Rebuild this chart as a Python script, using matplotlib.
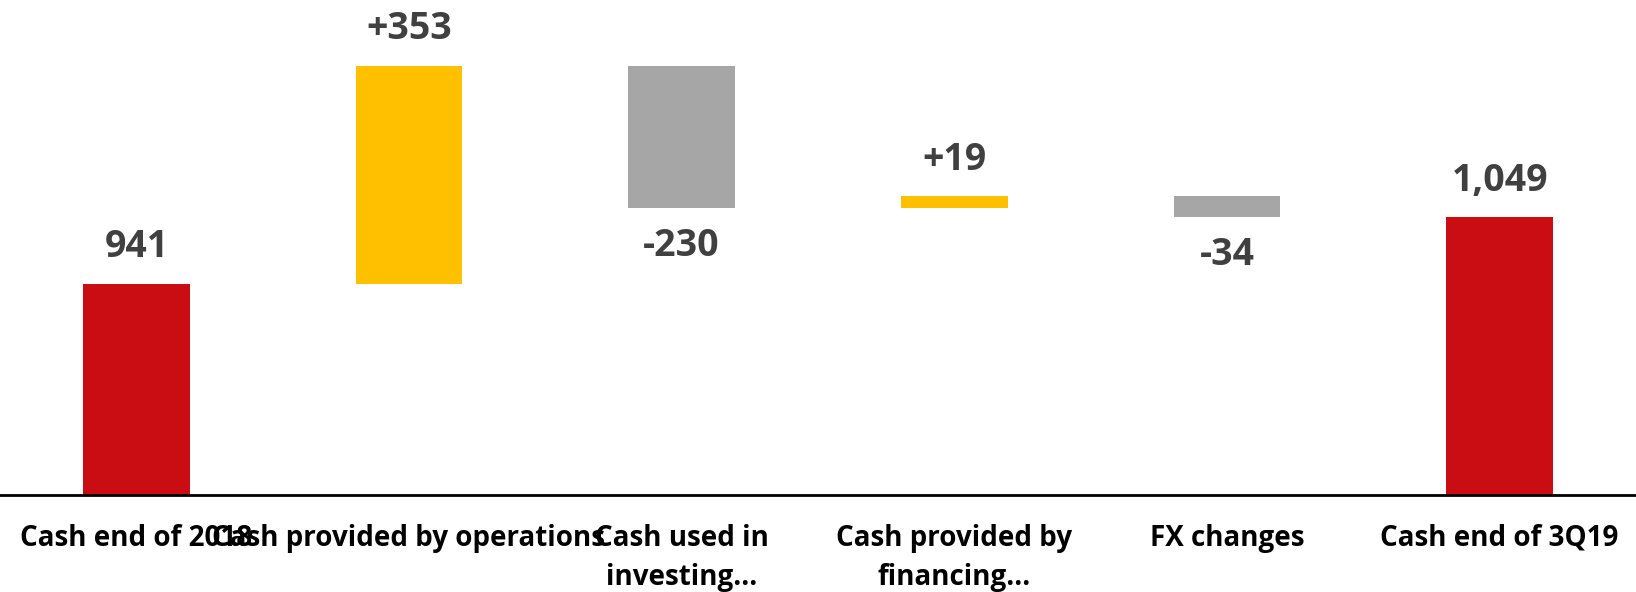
import numpy as np
import matplotlib
matplotlib.use('Agg')
import matplotlib.pyplot as plt

plt.rcParams['font.family'] = ['Open Sans', 'DejaVu Sans']

# data
categories = ['Cash end of 2018', 'Cash provided by operations', 'Cash used in\ninvesting...',
              'Cash provided by\nfinancing...', 'FX changes', 'Cash end of 3Q19']
values = [941, 353, -230, 19, -34, 1049]
kinds = ['total', 'delta', 'delta', 'delta', 'delta', 'total']
labels = ['941', '+353', '-230', '+19', '-34', '1,049']

RED = '#C90D12'
YELLOW = '#FFC000'
GREY = '#A6A6A6'
TXT = '#404040'

# waterfall bottoms / heights
bottoms, heights, colors = [], [], []
running = 0
for v, k in zip(values, kinds):
    if k == 'total':
        bottoms.append(0)
        heights.append(v)
        colors.append(RED)
        running = v
    else:
        if v >= 0:
            bottoms.append(running)
            colors.append(YELLOW)
        else:
            bottoms.append(running + v)
            colors.append(GREY)
        heights.append(abs(v))
        running += v

fig = plt.figure(figsize=(16.36, 5.92), dpi=100)
ax = fig.add_axes([0, 0.1645, 1, 0.8355])

x = np.arange(len(categories))
ax.bar(x, heights, bottom=bottoms, width=0.39, color=colors, zorder=2)

ax.set_xlim(-0.5, 5.5)
ax.set_ylim(600, 1400)

for xi, v, k, b, h, lab in zip(x, values, kinds, bottoms, heights, labels):
    if v >= 0:
        ax.annotate(lab, (xi, b + h), xytext=(0, 19), textcoords='offset points',
                    ha='center', va='baseline', fontsize=27, fontweight='bold', color=TXT)
    else:
        ax.annotate(lab, (xi, b), xytext=(0, -14), textcoords='offset points',
                    ha='center', va='top', fontsize=27, fontweight='bold', color=TXT)

ax.set_xticks(x)
ax.set_xticklabels(categories, fontsize=20, fontweight='bold', color='black',
                   multialignment='center', linespacing=1.45)
ax.tick_params(axis='x', length=0, pad=21)
ax.set_yticks([])

for s in ['top', 'left', 'right']:
    ax.spines[s].set_visible(False)
ax.spines['bottom'].set_linewidth(2)
ax.spines['bottom'].set_color('black')

fig.savefig('out.png', dpi=100)
